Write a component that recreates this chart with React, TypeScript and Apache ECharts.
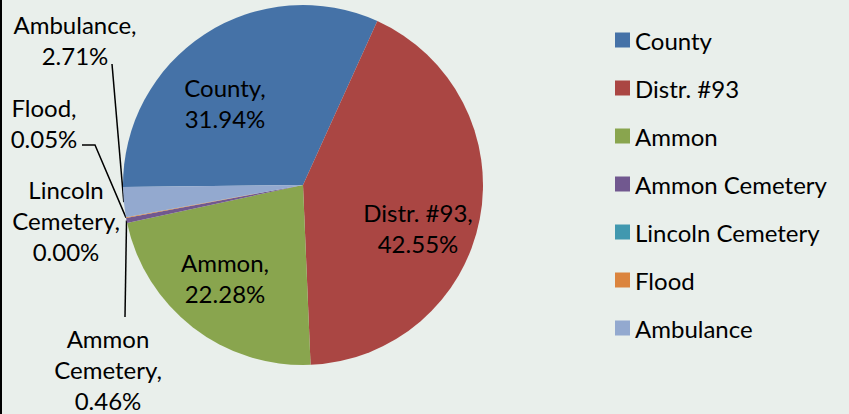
import React, { useEffect, useRef } from "react";
import * as echarts from "echarts";

const categories = ["County", "Distr. #93", "Ammon", "Ammon Cemetery", "Lincoln Cemetery", "Flood", "Ambulance"];
const percentValues = [31.94, 42.55, 22.28, 0.46, 0.0, 0.05, 2.71];
const colors = ["#4572A7", "#AA4643", "#89A54E", "#71588F", "#4198AF", "#DB843D", "#93A9CF"];

// label centres (layout only)
const labelCenters: [number, number][] = [
  [225, 103],
  [418, 228],
  [225, 278],
  [108, 369],
  [66, 220],
  [44, 123],
  [75, 40],
];
// extra bend points for leader lines (layout only), null = no line
const leaderEnds: ([number, number][] | null)[] = [
  null,
  null,
  null,
  [[125, 317]],
  null,
  [[95, 145], [82, 145]],
  [[112, 64]],
];

const FONT = "Lato, 'Open Sans', sans-serif";

export default function App() {
  const ref = useRef<HTMLDivElement>(null);
  useEffect(() => {
    if (!ref.current) return;
    const chart = echarts.init(ref.current, null, { renderer: "svg" });
    const data = categories.map((name, i) => ({
      name,
      value: percentValues[i],
      itemStyle: { color: colors[i] },
      labelLine: { show: leaderEnds[i] !== null },
    }));
    chart.setOption({
      animation: false,
      backgroundColor: "#E9EFEB",
      graphic: [
        { type: "rect", shape: { x: 0, y: 0, width: 2, height: 414 }, style: { fill: "#000" } },
      ],
      legend: {
        orient: "vertical",
        left: 615,
        top: 28,
        padding: 0,
        icon: "rect",
        itemWidth: 15,
        itemHeight: 15,
        itemGap: 24,
        textStyle: { fontFamily: FONT, fontSize: 24, color: "#000", lineHeight: 24 },
        data: categories,
      },
      series: [
        {
          type: "pie",
          center: [303, 185],
          radius: [0, 180],
          startAngle: 180.6,
          clockwise: true,
          minAngle: 0,
          avoidLabelOverlap: false,
          stillShowZeroSum: true,
          itemStyle: { borderWidth: 0 },
          label: {
            show: true,
            position: "outside",
            fontFamily: FONT,
            fontSize: 24,
            lineHeight: 31,
            color: "#000",
            align: "center",
            formatter: (p: any) => {
              const name: string = p.name;
              const pct = Number(p.value).toFixed(2) + "%";
              if (name === "Lincoln Cemetery") return "Lincoln\nCemetery,\n" + pct;
              if (name === "Ammon Cemetery") return "Ammon\nCemetery,\n" + pct;
              return name + ",\n" + pct;
            },
          },
          labelLine: { show: true, length: 10, length2: 10, lineStyle: { color: "#000", width: 1.5 } },
          labelLayout: (params: any) => {
            const i = params.dataIndex;
            const [cx, cy] = labelCenters[i];
            const res: any = { x: cx, y: cy, align: "center", verticalAlign: "middle" };
            const ends = leaderEnds[i];
            if (ends && params.labelLinePoints) {
              const start = params.labelLinePoints[0];
              res.labelLinePoints = [start, ...ends];
            }
            return res;
          },
          data,
        },
      ],
    });
    return () => chart.dispose();
  }, []);
  return (
    <div
      ref={ref}
      style={{ position: "fixed", left: 0, top: 0, width: 849, height: 414 }}
    />
  );
}
